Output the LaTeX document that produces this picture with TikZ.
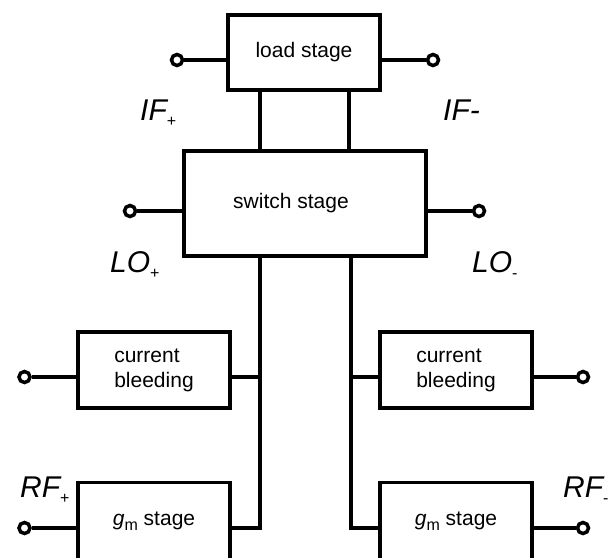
\documentclass[tikz,border=0pt]{standalone}
\usepackage{fontspec}
\setmainfont{Liberation Sans}
\usetikzlibrary{positioning}
\newcommand{\boxfont}{\fontsize{21}{25}\selectfont}
\newcommand{\sigfont}{\fontsize{30}{34}\selectfont\itshape}
\newcommand{\lowidx}[1]{\raisebox{-.4ex}{\fontsize{16}{16}\selectfont\upshape #1}}
\tikzset{
 every node/.append style={font=\boxfont,text=black},
 stage/.style={draw,line width=3.5pt,fill=white,inner sep=0pt,align=left},
 wire/.style={draw,line width=3.5pt},
 port/.style={circle,draw,line width=3.5pt,fill=white,minimum size=11pt,inner sep=0pt},
 sig/.style={font=\sigfont,inner sep=0pt,anchor=base west},
}

\begin{document}
\begin{tikzpicture}[x=1pt,y=-1pt]

\useasboundingbox (0,0) rectangle (615,557);
\clip (0,0) rectangle (615,557);

% blocks
\node[stage,minimum width=152pt,minimum height=75pt] (load) at (304,52.5) {load stage};
\node[stage,minimum width=242pt,minimum height=105pt] (switch) at (305,203.5) {switch stage\hspace*{28pt}};
\node[stage,minimum width=152pt,minimum height=76pt] (cbL) at (154,370) {current\\bleeding};
\node[stage,minimum width=152pt,minimum height=76pt] (cbR) at (456,370) {current\\bleeding};
\node[stage,minimum width=152pt,minimum height=77pt] (gmL) at (154,521) {\textit{g}\lowidx{m} stage};
\node[stage,minimum width=152pt,minimum height=77pt] (gmR) at (456,521) {\textit{g}\lowidx{m} stage};

% load <-> switch
\draw[wire] ([xshift=-44pt]load.south) -- ([xshift=-44pt]load.south |- switch.north);
\draw[wire] ([xshift=45pt]load.south) -- ([xshift=45pt]load.south |- switch.north);

% switch -> gm stages
\coordinate (tapL) at ([xshift=-45pt]switch.south);
\coordinate (tapR) at ([xshift=46pt]switch.south);

% ports
\node[port] (ifp) at (177,60) {};
\node[port] (ifm) at (433,60) {};
\node[port] (lop) at (130,211) {};
\node[port] (lom) at (479,211) {};
\node[port] (cbp) at (24.5,377) {};
\node[port] (cbm) at (583,377) {};
\node[port] (rfp) at (24.5,528) {};
\node[port] (rfm) at (583,528) {};

\draw[wire] (ifp) -- (ifp -| load.west);
\draw[wire] (ifm) -- (ifm -| load.east);
\draw[wire] (lop) -- (lop -| switch.west);
\draw[wire] (lom) -- (lom -| switch.east);
\draw[wire] (cbp) -- (cbp -| cbL.west);
\draw[wire] (cbm) -- (cbm -| cbR.east);
\draw[wire] (rfp) -- (rfp -| gmL.west);
\draw[wire] (rfm) -- (rfm -| gmR.east);

\draw[wire] (tapL) |- (rfp -| gmL.east);
\draw[wire] (tapR) |- (rfm -| gmR.west);
\draw[wire] (cbp -| cbL.east) -- (cbp -| tapL);
\draw[wire] (cbm -| cbR.west) -- (cbm -| tapR);

% signal names
\node[sig] (ifpl) at (140,120) {IF\lowidx{+}};
\node[sig] (ifml) at (443,120) {IF-};
\node[sig] (lopl) at (110,272) {LO\lowidx{+}};
\node[sig] (loml) at (472,272) {LO\lowidx{-}};
\node[sig] (rfpl) at (20,497) {RF\lowidx{+}};
\node[sig] (rfml) at (563,497) {RF\lowidx{-}};

\end{tikzpicture}
\end{document}
